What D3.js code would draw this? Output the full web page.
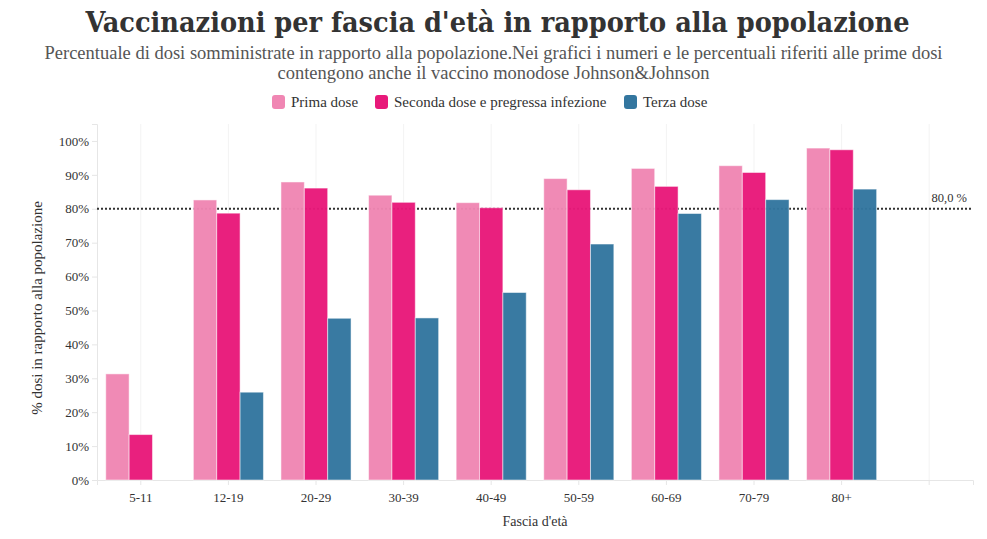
<!DOCTYPE html>
<html><head><meta charset="utf-8">
<script src="https://cdn.jsdelivr.net/npm/d3@7"></script>
<style>
body{margin:0;background:#fff;}
svg{display:block;}
text{font-family:"Liberation Serif","DejaVu Serif",serif;}
</style></head>
<body><svg id="c" width="987" height="539"></svg>
<script>
const categories = ["5-11","12-19","20-29","30-39","40-49","50-59","60-69","70-79","80+",""];
const seriesNames = ["Prima dose","Seconda dose e pregressa infezione","Terza dose"];
const primaDose   = [31.3, 82.6, 87.9, 84.0, 81.8, 88.9, 91.9, 92.7, 97.9, null];
const secondaDose = [13.4, 78.7, 86.1, 81.9, 80.3, 85.6, 86.6, 90.7, 97.4, null];
const terzaDose   = [null, 25.9, 47.7, 47.8, 55.3, 69.6, 78.6, 82.7, 85.8, null];
const yTicks = [0,10,20,30,40,50,60,70,80,90,100];
const threshold = 80;
const colors = ["#f086b3","#e8197a","#33769f"];

const svg = d3.select("#c");
const W = 987, H = 539;
const m = {l:97, r:14, t:124, b:59};

svg.append("text").attr("x", W/2+4).attr("y", 32).attr("text-anchor","middle")
  .style("font-family","'DejaVu Serif Condensed','DejaVu Serif',serif").style("font-weight","bold")
  .style("font-size","28.5px").attr("fill","#333")
  .text("Vaccinazioni per fascia d'età in rapporto alla popolazione");
svg.append("text").attr("x", W/2).attr("y", 59).attr("text-anchor","middle")
  .style("font-size","18.5px").attr("fill","#555")
  .text("Percentuale di dosi somministrate in rapporto alla popolazione.Nei grafici i numeri e le percentuali riferiti alle prime dosi");
svg.append("text").attr("x", W/2).attr("y", 79).attr("text-anchor","middle")
  .style("font-size","18.5px").attr("fill","#555")
  .text("contengono anche il vaccino monodose Johnson&Johnson");

// legend
const legX = [272, 375, 624];
seriesNames.forEach((n,i)=>{
  const g = svg.append("g").attr("transform",`translate(${legX[i]},95)`);
  g.append("rect").attr("width",13).attr("height",14).attr("rx",3).attr("fill",colors[i]);
  g.append("text").attr("x",19).attr("y",12).style("font-size","15px").attr("fill","#333").text(n);
});

const x0 = d3.scaleBand().domain(categories.map((c,i)=>i)).range([m.l, W-m.r]).paddingInner(0.2).paddingOuter(0.1);
const x1 = d3.scaleBand().domain([0,1,2]).range([0, x0.bandwidth()]);
const y = d3.scaleLinear().domain([0,105]).range([H-m.b, m.t]);

// vertical faint grid at categories
svg.append("g").selectAll("line").data(categories.map((c,i)=>i)).join("line")
  .attr("x1",d=>x0(d)+x0.bandwidth()/2).attr("x2",d=>x0(d)+x0.bandwidth()/2)
  .attr("y1",y(105)).attr("y2",y(0)).attr("stroke","#f3f3f3");

// y axis
const ya = svg.append("g").attr("transform",`translate(${m.l},0)`)
  .call(d3.axisLeft(y).tickValues(yTicks).tickFormat(d=>d+"%").tickSize(5).tickPadding(3));
ya.select(".domain").attr("stroke","#e6e6e6");
ya.selectAll(".tick line").attr("stroke","#e6e6e6");
ya.selectAll("text").style("font-size","13px").attr("fill","#333").style("font-family","'Liberation Serif',serif");

// x axis
const xa = svg.append("g").attr("transform",`translate(0,${H-m.b})`)
  .call(d3.axisBottom(x0).tickFormat(i=>categories[i]).tickSize(5).tickPadding(8));
xa.select(".domain").attr("stroke","#e6e6e6");
xa.selectAll(".tick line").attr("stroke","#e6e6e6");
xa.selectAll("text").style("font-size","13px").attr("fill","#333");

// threshold line
svg.append("line").attr("x1",m.l).attr("x2",W-m.r).attr("y1",y(threshold)).attr("y2",y(threshold))
  .attr("stroke","#333").attr("stroke-width",2).attr("stroke-dasharray","2,2");
svg.append("text").attr("x",967).attr("y",y(threshold)-7).attr("text-anchor","end")
  .style("font-size","12.5px").attr("fill","#333").text(d3.format(".1f")(threshold).replace(".",",")+" %");

// bars
const series = [primaDose, secondaDose, terzaDose];
series.forEach((vals,s)=>{
  svg.append("g").selectAll("rect").data(vals.map((v,i)=>({v,i})).filter(d=>d.v!=null)).join("rect")
    .attr("x",d=>x0(d.i)+x1(s)).attr("width",x1.bandwidth())
    .attr("y",d=>y(d.v)).attr("height",d=>y(0)-y(d.v))
    .attr("fill",colors[s]).attr("fill-opacity",0.97)
    .attr("stroke","#fff").attr("stroke-opacity",0.5).attr("stroke-width",1);
});

// axis titles
svg.append("text").attr("transform",`translate(42,${(y(0)+y(105))/2+6}) rotate(-90)`).attr("text-anchor","middle")
  .style("font-size","15px").attr("fill","#333").text("% dosi in rapporto alla popolazione");
svg.append("text").attr("x",535).attr("y",526).attr("text-anchor","middle")
  .style("font-size","14px").attr("fill","#333").text("Fascia d'età");
</script></body></html>
